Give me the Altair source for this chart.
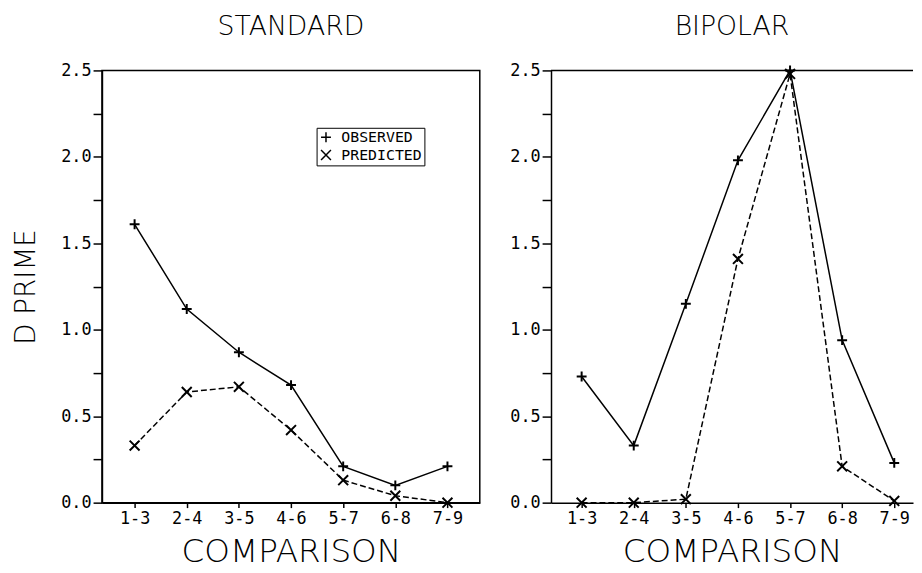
import json
import altair as alt
import pandas as pd

# ---- data ----
comparisons = ["1-3", "2-4", "3-5", "4-6", "5-7", "6-8", "7-9"]
positions = [1, 2, 3, 4, 5, 6, 7]
series_names = ["OBSERVED", "PREDICTED"]

standard_observed = [1.61, 1.12, 0.87, 0.68, 0.21, 0.10, 0.21]
standard_predicted = [0.33, 0.64, 0.67, 0.42, 0.13, 0.04, 0.00]
bipolar_observed = [0.73, 0.33, 1.15, 1.98, 2.50, 0.94, 0.23]
bipolar_predicted = [0.00, 0.00, 0.02, 1.41, 2.48, 0.21, 0.01]

y_ticks = [0.0, 0.25, 0.5, 0.75, 1.0, 1.25, 1.5, 1.75, 2.0, 2.25, 2.5]
top_value = [2.5]


def frame(obs, pred):
    rows = []
    for name, vals in zip(series_names, [obs, pred]):
        for p, c, v in zip(positions, comparisons, vals):
            rows.append({"pos": p, "comparison": c, "series": name, "dprime": v})
    return pd.DataFrame(rows)


std_df = frame(standard_observed, standard_predicted)
bip_df = frame(bipolar_observed, bipolar_predicted)

label_expr = "%s[datum.value - 1]" % json.dumps(comparisons)
y_label_expr = "datum.value % 0.5 == 0 ? format(datum.value, '.1f') : ''"

PLUS = "M-1,0L1,0M0,-1L0,1"
CROSS = "M-1,-1L1,1M-1,1L1,-1"
TITLE_FONT = "DejaVu Sans"
MONO = "DejaVu Sans Mono"


def panel(df, title, domain, width, show_ytitle, show_legend):
    x = alt.X(
        "pos:Q",
        scale=alt.Scale(domain=domain, nice=False, zero=False),
        axis=alt.Axis(
            values=positions,
            labelExpr=label_expr,
            title="COMPARISON",
            titleFont=TITLE_FONT,
            titleFontWeight=200,
            titleFontSize=33,
            titlePadding=10,
            labelFont=MONO,
            labelFontSize=17,
            labelPadding=3,
            tickSize=5,
            grid=False,
        ),
    )
    y = alt.Y(
        "dprime:Q",
        scale=alt.Scale(domain=[0, 2.5], nice=False),
        axis=alt.Axis(
            values=y_ticks,
            labelExpr=y_label_expr,
            title="D PRIME" if show_ytitle else None,
            titleFont=TITLE_FONT,
            titleFontWeight=200,
            titleFontSize=28,
            titlePadding=21,
            labelFont=MONO,
            labelFontSize=17,
            labelPadding=2,
            tickSize=9,
            grid=False,
        ),
    )
    base = alt.Chart(df)
    obs_line = (
        base.transform_filter(alt.datum.series == series_names[0])
        .mark_line(color="black", strokeWidth=1.5)
        .encode(x=x, y=y)
    )
    pred_line = (
        base.transform_filter(alt.datum.series == series_names[1])
        .mark_line(color="black", strokeWidth=1.5, strokeDash=[6, 3])
        .encode(x=x, y=y)
    )
    if show_legend:
        legend = alt.Legend(
            title=None,
            orient="none",
            legendX=217,
            legendY=58,
            strokeColor="black",
            padding=2,
            rowPadding=1,
            symbolSize=100,
            symbolStrokeWidth=1.5,
            symbolStrokeColor="black",
            symbolFillColor="transparent",
            labelFont=MONO,
            labelFontSize=15,
            labelColor="black",
            labelOffset=8,
        )
    else:
        legend = None
    points = base.mark_point(
        filled=False, color="black", strokeWidth=2, size=100, opacity=1
    ).encode(
        x=x,
        y=y,
        shape=alt.Shape(
            "series:N",
            scale=alt.Scale(domain=series_names, range=[PLUS, CROSS]),
            legend=legend,
        ),
    )
    layers = [obs_line, pred_line, points]
    chart_props = dict(
        width=width,
        height=437,
        title=alt.TitleParams(
            title, font=TITLE_FONT, fontWeight=200, fontSize=27, offset=21, color="black"
        ),
    )
    if not show_legend:
        top_line = (
            alt.Chart(pd.DataFrame({"top": top_value}))
            .mark_rule(color="black", strokeWidth=1.5)
            .encode(y=alt.Y("top:Q", scale=alt.Scale(domain=[0, 2.5], nice=False)))
        )
        layers.append(top_line)
        return alt.layer(*layers).properties(
            view=alt.ViewBackground(strokeOpacity=0), **chart_props
        )
    return alt.layer(*layers).properties(**chart_props)


left = panel(std_df, "STANDARD", [0.374, 7.62], 382, True, True)
right = panel(bip_df, "BIPOLAR", [0.412, 7.36], 366, False, False)

chart = (
    alt.hconcat(left, right, spacing=29)
    .resolve_scale(shape="independent")
    .properties(padding={"left": 3, "top": 1, "right": 0, "bottom": 0}, background="white")
    .configure_view(stroke="black", strokeWidth=1.5)
    .configure_axis(
        domainColor="black",
        domainWidth=1.5,
        tickColor="black",
        tickWidth=1.5,
        labelColor="black",
        titleColor="black",
    )
)

chart.save("out.html", embed_options={"renderer": "svg", "actions": False})
